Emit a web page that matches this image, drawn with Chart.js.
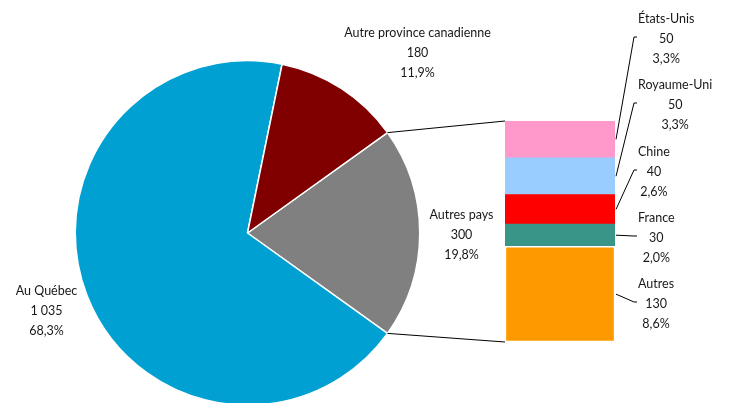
<!DOCTYPE html>
<html>
<head>
<meta charset="utf-8">
<script src="https://cdn.jsdelivr.net/npm/chart.js@4.4.0/dist/chart.umd.min.js"></script>
<style>
body{margin:0;background:#fff;}
#wrap{position:relative;width:735px;height:403px;overflow:hidden;}
canvas{position:absolute;left:0;top:0;}
</style>
</head>
<body>
<div id="wrap">
<canvas id="pie" width="735" height="410"></canvas>
<canvas id="barres" width="735" height="403"></canvas>
</div>
<script>
// donnees du secteur
const regions = ["Autres pays", "Au Québec", "Autre province canadienne"];
const regionValeurs = [300, 1035, 180];
const regionPourcent = ["19,8%", "68,3%", "11,9%"];
const regionCouleurs = ["#808080", "#00A0D3", "#800000"];

// donnees de la barre (du bas vers le haut)
const pays = ["Autres", "France", "Chine", "Royaume-Uni", "États-Unis"];
const paysValeurs = [130, 30, 40, 50, 50];
const paysPourcent = ["8,6%", "2,0%", "2,6%", "3,3%", "3,3%"];
const paysCouleurs = ["#FF9900", "#389587", "#FF0000", "#99CCFF", "#FF99CC"];

const police = "12.5px Lato";
const couleurTexte = "#1a1718";

function nombre(v){
    return String(v).replace(/\B(?=(\d{3})+(?!\d))/g, " ");
}

// position des etiquettes du secteur (decalage par rapport au centre)
const posRegions = [[214, 0], [-201, 76], [170, -182]];
// position verticale de la ligne "valeur" des etiquettes de la barre
const posPays = [302, 236, 170, 103, 37];

function bloc(ctx, lignes, cx, cy){
    ctx.fillStyle = couleurTexte;
    ctx.font = police;
    ctx.textAlign = "center";
    ctx.textBaseline = "middle";
    for(let i=0;i<lignes.length;i++){
        ctx.fillText(lignes[i], cx, cy + 1.5 + (i-1)*20);
    }
}

const total = regionValeurs.reduce((a,b)=>a+b, 0);

const etiquettesSecteur = {
    id: "etiquettesSecteur",
    afterDraw(chart){
        const ctx = chart.ctx;
        const arc = chart.getDatasetMeta(0).data[0];
        ctx.save();
        for(let i=0;i<regions.length;i++){
            bloc(ctx, [regions[i], nombre(regionValeurs[i]), regionPourcent[i]],
                arc.x + posRegions[i][0], arc.y + posRegions[i][1]);
        }
        ctx.restore();
    }
};

const pieChart = new Chart(document.getElementById("pie"), {
    type: "pie",
    data: {
        labels: regions,
        datasets: [{
            data: regionValeurs,
            backgroundColor: regionCouleurs,
            borderColor: "#ffffff",
            borderWidth: 1.5
        }]
    },
    options: {
        responsive: false,
        animation: false,
        rotation: 90 - 180*regionValeurs[0]/total,
        layout: { padding: { left: 74.5, right: 314.5, top: 60, bottom: 4 } },
        plugins: {
            legend: { display: false },
            tooltip: { enabled: false }
        }
    },
    plugins: [etiquettesSecteur]
});

const etiquettesBarre = {
    id: "etiquettesBarre",
    afterDraw(chart){
        const ctx = chart.ctx;
        ctx.save();
        ctx.strokeStyle = "#000";
        ctx.lineWidth = 1;

        // lignes entre le secteur et la barre
        const arc = pieChart.getDatasetMeta(0).data[0];
        const r = arc.outerRadius;
        const haut = chart.getDatasetMeta(pays.length-1).data[0];
        const bas = chart.getDatasetMeta(0).data[0];
        const gauche = haut.x - haut.width/2;
        ctx.beginPath();
        ctx.moveTo(arc.x + r*Math.cos(arc.startAngle), arc.y + r*Math.sin(arc.startAngle));
        ctx.lineTo(gauche, haut.y);
        ctx.moveTo(arc.x + r*Math.cos(arc.endAngle), arc.y + r*Math.sin(arc.endAngle));
        ctx.lineTo(gauche, bas.base);
        ctx.stroke();

        // etiquettes des pays
        ctx.font = police;
        for(let i=0;i<pays.length;i++){
            const b = chart.getDatasetMeta(i).data[0];
            const droite = b.x + b.width/2;
            const milieu = (b.y + b.base)/2;
            const ly = posPays[i];
            ctx.strokeStyle = "#000";
            ctx.lineWidth = 1;
            ctx.beginPath();
            ctx.moveTo(droite + 1, milieu);
            ctx.lineTo(634, ly);
            ctx.lineTo(637, ly);
            ctx.stroke();
            ctx.font = police;
            const w = ctx.measureText(pays[i]).width;
            bloc(ctx, [pays[i], nombre(paysValeurs[i]), paysPourcent[i]], 638 + w/2, ly);
        }
        ctx.restore();
    }
};

const barChart = new Chart(document.getElementById("barres"), {
    type: "bar",
    data: {
        labels: [regions[0]],
        datasets: pays.map((p, i) => ({
            label: p,
            data: [paysValeurs[i]],
            backgroundColor: paysCouleurs[i],
            borderColor: "#ffffff",
            borderWidth: i == 0 ? 1.5 : 0,
            borderSkipped: false,
            barPercentage: 1,
            categoryPercentage: 1
        }))
    },
    options: {
        responsive: false,
        animation: false,
        layout: { padding: { left: 505, right: 120, top: 121, bottom: 61 } },
        scales: {
            x: { display: false, stacked: true },
            y: { display: false, stacked: true, min: 0, max: regionValeurs[0] }
        },
        plugins: {
            legend: { display: false },
            tooltip: { enabled: false }
        }
    },
    plugins: [etiquettesBarre]
});
</script>
</body>
</html>
